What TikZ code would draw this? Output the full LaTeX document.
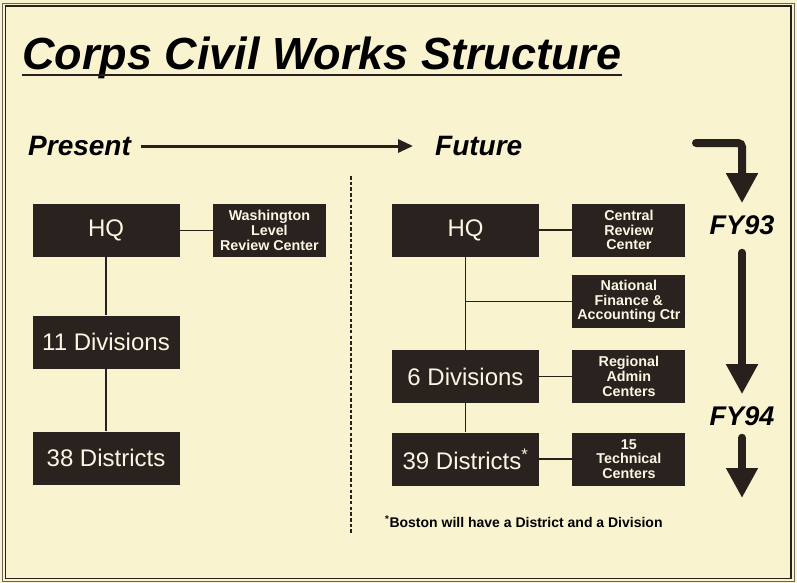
\documentclass[tikz,border=0pt]{standalone}
\usepackage{fontspec}
\setmainfont{Liberation Sans}
\usetikzlibrary{arrows.meta, positioning}
\definecolor{paper}{RGB}{249,243,208}
\definecolor{ink}{RGB}{40,32,28}
\definecolor{boxfill}{RGB}{42,34,30}
\definecolor{boxtext}{RGB}{250,246,228}

\begin{document}
\begin{tikzpicture}[
  x=1pt, y=-1pt,
  node distance=18pt and 33pt,
  bigbox/.style={rectangle, fill=boxfill, text=boxtext, minimum width=147pt, minimum height=53pt,
                 inner sep=0pt, font=\fontsize{24}{26}\selectfont},
  sidebox/.style={rectangle, fill=boxfill, text=boxtext, minimum width=113pt, minimum height=53pt,
                  inner sep=0pt, align=center, font=\bfseries\fontsize{14.3}{14.7}\selectfont},
  era/.style={inner sep=0pt, anchor=west, font=\bfseries\itshape\fontsize{28}{30}\selectfont},
  fiscal/.style={inner sep=12pt, font=\bfseries\itshape\fontsize{27}{30}\selectfont},
  link/.style={draw=ink, line width=1.6pt},
  arr/.style={ink, line width=3pt, -{Triangle[length=15pt,width=13pt]}},
  bigarr/.style={ink, line width=8pt, line cap=round, rounded corners=4pt, -{Triangle[length=30pt,width=30pt]}}
]
  \useasboundingbox (0,0) rectangle (797,583);
  \fill[paper] (0,0) rectangle (797,583);
  \draw[ink!70, line width=0.6pt] (2,3) rectangle (794.5,581.5);
  \draw[ink, line width=1.2pt] (5.5,6) rectangle (791,578.5);

  \node[anchor=base west, inner sep=0pt, font=\bfseries\itshape\fontsize{45}{48}\selectfont] (title) at (22,70)
    {Corps Civil Works Structure};
  \draw[ink, line width=2.2pt] ([yshift=-5pt]title.base west) -- ([yshift=-5pt]title.base east);

  \node[era] (present) at (28,146) {Present};
  \node[era] (future) at (435,146) {Future};
  \draw[arr, shorten <=10pt, shorten >=22pt] (present) -- (future);

  \draw[ink, line width=2pt, dash pattern=on 3.5pt off 2.2pt] (351,176) -- (351,535);

  % present
  \node[bigbox] (hqL) at (106,230.5) {HQ};
  \node[sidebox, right=of hqL] (wash) {Washington\\Level\\Review Center};
  \node[bigbox] (divL) at (106,342) {11 Divisions};
  \node[bigbox] (distL) at (106,458) {38 Districts};
  \draw[link] (hqL) -- (wash);
  \draw[link] (hqL) -- (divL);
  \draw[link] (divL) -- (distL);

  % future
  \node[bigbox] (hqR) at (465.5,230) {HQ};
  \node[sidebox, right=of hqR] (central) {Central\\Review\\Center};
  \node[sidebox, below=of central] (national) {National\\Finance \&\\Accounting Ctr};
  \node[bigbox] (divR) at (465.5,376.5) {6 Divisions};
  \node[sidebox, right=of divR] (regional) {Regional\\Admin\\Centers};
  \node[bigbox] (distR) at (465.5,459) {39 Districts\textsuperscript{*}};
  \node[sidebox, right=of distR] (tech) {15\\Technical\\Centers};
  \draw[link] (hqR) -- (central);
  \draw[link] (hqR) -- (divR);
  \draw[link] (hqR |- national) -- (national);
  \draw[link] (divR) -- (regional);
  \draw[link] (divR) -- (distR);
  \draw[link] (distR) -- (tech);

  \node[anchor=west, inner sep=0pt, font=\bfseries\fontsize{14}{16}\selectfont] (note) at (385,522)
    {\textsuperscript{*}Boston will have a District and a Division};

  % fiscal years
  \node[fiscal] (fy93) at (742,225) {FY93};
  \node[fiscal] (fy94) at (742,416) {FY94};
  \coordinate (turn) at (696,143);
  \coordinate (last) at (742,498);
  \draw[bigarr] (turn) -| (fy93.north);
  \draw[bigarr, shorten <=6pt] (fy93.south) -- (fy94.north);
  \draw[bigarr] (fy94.south) -- (last);
\end{tikzpicture}
\end{document}
